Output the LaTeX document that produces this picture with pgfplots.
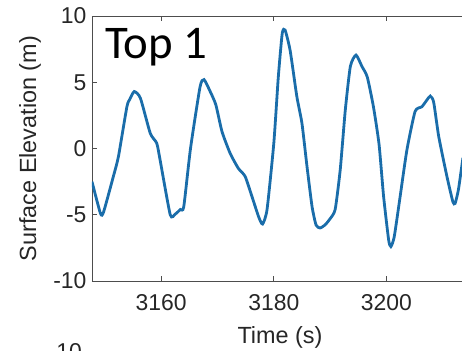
\documentclass[border=0pt]{standalone}
\usepackage{pgfplots}
\pgfplotsset{compat=1.18}
\usepackage{fontspec}
\setmainfont{Liberation Sans}
\newfontfamily\calibri{Carlito}
\definecolor{mblue}{HTML}{1A6DAA}
\definecolor{axgray}{HTML}{4D4D4D}
\definecolor{txt}{HTML}{262626}
\begin{document}
\begin{tikzpicture}
\begin{axis}[
  scale only axis,
  width=376bp, height=265bp,
  xmin=3147.7, xmax=3214.5,
  ymin=-10, ymax=10,
  xtick={3160,3180,3200},
  ytick={-10,-5,0,5,10},
  tick align=inside,
  major tick length=5bp,
  axis line style={draw=axgray, line width=0.8bp},
  tick style={draw=axgray, line width=0.8bp},
  /pgf/number format/assume math mode=true,
  /pgf/number format/1000 sep={},
  ticklabel style={font=\fontsize{23}{27}\selectfont, text=txt},
  xticklabel style={yshift=-10bp},
  yticklabel style={xshift=-2bp},
  xlabel={Time (s)},
  ylabel={Surface Elevation (m)},
  label style={font=\fontsize{23.5}{27}\selectfont, text=txt},
  x label style={at={(axis description cs:0.5,-0.2113)}, anchor=center},
  y label style={at={(axis description cs:-0.165,0.5)}, anchor=center},
  clip=true,
]
\addplot[mblue, line width=2.8bp, smooth, tension=0.35] coordinates {
(3147.7,-2.5) (3149.2,-4.9) (3149.75,-4.8) (3151.5,-2.1) (3152.4,-0.6)
(3153.9,3.15) (3154.4,3.7) (3155.2,4.3) (3156.3,3.8) (3158.05,1.15)
(3159.2,0.4) (3159.8,-0.87) (3161.6,-5.0) (3162.5,-4.95) (3163.4,-4.6)
(3164.0,-4.4) (3165.2,0.0) (3166.9,4.66) (3167.6,5.2) (3168.7,4.3)
(3169.7,3.3) (3170.8,1.27) (3172.25,-0.37) (3173.7,-1.5) (3174.9,-2.1)
(3176.1,-3.6) (3177.3,-5.15) (3178.0,-5.7) (3178.8,-4.6) (3180.0,0.4)
(3180.8,5.4) (3181.5,8.7) (3182.0,8.94) (3182.9,7.4) (3184.1,3.9)
(3185.0,1.9) (3185.9,-1.37) (3186.8,-4.4) (3187.5,-5.77) (3188.2,-6.0)
(3189.1,-5.77) (3190.0,-5.3) (3190.9,-4.6) (3191.8,-1.6) (3192.7,2.9)
(3193.6,6.2) (3194.6,7.05) (3195.65,6.2) (3196.6,5.4) (3197.7,3.15)
(3198.7,0.3) (3199.5,-3.6) (3200.4,-6.9) (3200.8,-7.4) (3201.4,-6.65)
(3202.45,-3.6) (3203.65,-0.1) (3205.1,2.8) (3206.3,3.15) (3207.2,3.66)
(3207.8,3.96) (3208.4,3.5) (3209.3,0.9) (3210.75,-2.1) (3211.8,-4.0)
(3212.2,-4.15) (3212.8,-3.1) (3213.6,-0.7)
};
\end{axis}
\node[anchor=base west, inner sep=0, font=\calibri\fontsize{47}{50}\selectfont] at (13bp,222bp) {Top 1};
\node[anchor=north east, inner sep=0, text=txt, font=\fontsize{23}{27}\selectfont] at (-10bp,-62bp) {10};
\pgfresetboundingbox
\path[use as bounding box] (-92bp,-70bp) rectangle (370bp,281bp);
\end{tikzpicture}
\end{document}
